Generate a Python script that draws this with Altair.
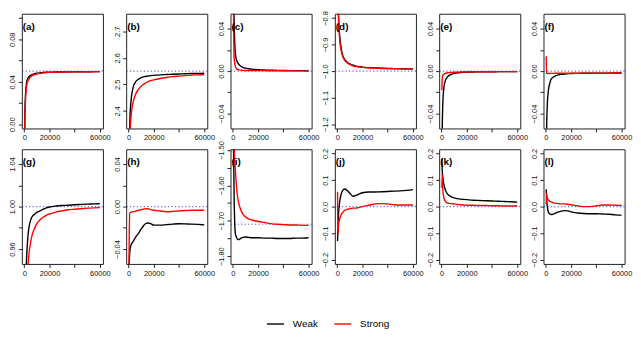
import altair as alt
import pandas as pd

n_vals = [250, 500, 1000, 2000, 3000, 4000, 5000, 6000, 8000, 10000, 12500, 15000,
          17500, 20000, 25000, 30000, 35000, 40000, 45000, 50000, 55000, 60000]

a_weak = [-0.03, 0.01, 0.028, 0.040, 0.0435, 0.045, 0.046, 0.0467, 0.0475, 0.048, 0.0484, 0.0487,
          0.0489, 0.049, 0.0491, 0.0492, 0.0493, 0.0493, 0.0494, 0.0494, 0.0495, 0.0495]
a_strong = [-0.04, 0.0, 0.022, 0.037, 0.041, 0.043, 0.0445, 0.0455, 0.0466, 0.0473, 0.0479, 0.0483,
            0.0486, 0.0488, 0.049, 0.0491, 0.0492, 0.0493, 0.0493, 0.0494, 0.0494, 0.0495]
b_weak = [2.15, 2.25, 2.36, 2.44, 2.475, 2.495, 2.505, 2.512, 2.52, 2.525, 2.529, 2.531,
          2.533, 2.534, 2.536, 2.537, 2.538, 2.539, 2.54, 2.541, 2.541, 2.542]
b_strong = [2.1, 2.2, 2.31, 2.38, 2.42, 2.44, 2.455, 2.467, 2.482, 2.493, 2.502, 2.509,
            2.514, 2.517, 2.522, 2.526, 2.529, 2.531, 2.533, 2.535, 2.536, 2.537]
c_weak = [0.15, 0.09, 0.045, 0.016, 0.01, 0.0075, 0.006, 0.0048, 0.0036, 0.0028, 0.0022, 0.0018,
          0.0015, 0.0013, 0.001, 0.0008, 0.0007, 0.0006, 0.0005, 0.0004, 0.0004, 0.0003]
c_strong = [0.12, 0.06, 0.012, 0.004, 0.002, 0.0014, 0.0011, 0.0009, 0.0007, 0.0006, 0.0005, 0.0005,
            0.0004, 0.0004, 0.0004, 0.0003, 0.0003, 0.0003, 0.0003, 0.0002, 0.0002, 0.0002]
d_weak = [-0.6, -0.7, -0.79, -0.87, -0.91, -0.935, -0.948, -0.957, -0.967, -0.973, -0.978, -0.981,
          -0.983, -0.985, -0.987, -0.988, -0.989, -0.99, -0.9905, -0.991, -0.9915, -0.992]
d_strong = [-0.62, -0.72, -0.80, -0.885, -0.92, -0.94, -0.952, -0.96, -0.969, -0.975, -0.98, -0.983,
            -0.985, -0.986, -0.988, -0.989, -0.99, -0.9905, -0.991, -0.9915, -0.992, -0.992]
e_weak = [-0.1, -0.06, -0.03, -0.014, -0.009, -0.0065, -0.005, -0.004, -0.003, -0.0022, -0.0017, -0.0013,
          -0.0011, -0.001, -0.0008, -0.0007, -0.0006, -0.0006, -0.0005, -0.0005, -0.0005, -0.0005]
e_strong = [-0.018, -0.008, -0.004, -0.0028, -0.0022, -0.0018, -0.0015, -0.0014, -0.0012, -0.0011, -0.001, -0.0009,
            -0.0008, -0.0008, -0.0007, -0.0006, -0.0006, -0.0006, -0.0005, -0.0005, -0.0005, -0.0005]
f_weak = [-0.1, -0.06, -0.035, -0.018, -0.012, -0.008, -0.0065, -0.0055, -0.0042, -0.0035, -0.003, -0.0027,
          -0.0025, -0.0023, -0.0021, -0.002, -0.002, -0.0019, -0.0019, -0.0019, -0.0018, -0.0018]
f_strong = [0.014, -0.002, -0.0022, -0.0022, -0.0022, -0.0021, -0.0021, -0.0021, -0.002, -0.002, -0.002, -0.002,
            -0.002, -0.002, -0.002, -0.0019, -0.0019, -0.0019, -0.0019, -0.0018, -0.0018, -0.0018]
g_weak = [0.8, 0.88, 0.92, 0.955, 0.973, 0.982, 0.987, 0.99, 0.9925, 0.9945, 0.996, 0.9975,
          0.9988, 0.9996, 1.0005, 1.001, 1.0013, 1.0017, 1.002, 1.0023, 1.0025, 1.0028]
g_strong = [0.75, 0.83, 0.88, 0.92, 0.945, 0.958, 0.966, 0.972, 0.979, 0.984, 0.9875, 0.99,
            0.9918, 0.993, 0.9948, 0.996, 0.997, 0.9975, 0.998, 0.9985, 0.9988, 0.999]
h_weak = [-0.08, -0.055, -0.042, -0.036, -0.034, -0.032, -0.030, -0.028, -0.025, -0.021, -0.017, -0.0155,
          -0.016, -0.0175, -0.0175, -0.017, -0.0165, -0.0162, -0.0163, -0.0165, -0.0168, -0.0172]
h_strong = [-0.07, -0.03, -0.006, -0.0052, -0.005, -0.0048, -0.0045, -0.004, -0.0035, -0.003, -0.0022, -0.002,
            -0.0028, -0.0035, -0.0042, -0.0048, -0.0045, -0.004, -0.0037, -0.0035, -0.0034, -0.0035]
i_weak = [-1.35, -1.49, -1.64, -1.738, -1.748, -1.753, -1.753, -1.75, -1.747, -1.746, -1.747, -1.748,
          -1.748, -1.748, -1.749, -1.749, -1.75, -1.75, -1.75, -1.749, -1.749, -1.748]
i_strong = [-1.3, -1.38, -1.49, -1.56, -1.61, -1.64, -1.655, -1.667, -1.682, -1.689, -1.695, -1.698,
            -1.7, -1.702, -1.705, -1.708, -1.71, -1.711, -1.712, -1.712, -1.713, -1.713]
j_weak = [-0.13, -0.09, -0.03, 0.02, 0.045, 0.058, 0.065, 0.066, 0.06, 0.05, 0.039, 0.042,
          0.048, 0.052, 0.055, 0.055, 0.056, 0.057, 0.058, 0.059, 0.061, 0.064]
j_strong = [0.055, -0.107, -0.07, -0.045, -0.032, -0.024, -0.018, -0.014, -0.01, -0.008, -0.006, -0.006,
            -0.003, 0.0, 0.005, 0.01, 0.011, 0.01, 0.007, 0.006, 0.006, 0.006]
k_weak = [0.18, 0.14, 0.11, 0.08, 0.063, 0.052, 0.046, 0.042, 0.036, 0.033, 0.030, 0.028,
          0.027, 0.026, 0.024, 0.023, 0.022, 0.021, 0.02, 0.019, 0.018, 0.017]
k_strong = [0.07, 0.12, 0.06, 0.03, 0.02, 0.015, 0.013, 0.012, 0.011, 0.01, 0.008, 0.007,
            0.006, 0.005, 0.005, 0.004, 0.004, 0.003, 0.003, 0.002, 0.002, 0.002]
l_weak = [0.065, 0.035, 0.005, -0.021, -0.027, -0.03, -0.03, -0.028, -0.024, -0.02, -0.017, -0.015,
          -0.016, -0.02, -0.024, -0.026, -0.027, -0.027, -0.028, -0.029, -0.031, -0.032]
l_strong = [0.01, 0.05, 0.035, 0.025, 0.02, 0.018, 0.016, 0.014, 0.012, 0.011, 0.01, 0.01,
            0.009, 0.007, 0.003, 0.0, 0.0, 0.003, 0.006, 0.006, 0.005, 0.004]

weak_series = [a_weak, b_weak, c_weak, d_weak, e_weak, f_weak, g_weak, h_weak, i_weak, j_weak, k_weak, l_weak]
strong_series = [a_strong, b_strong, c_strong, d_strong, e_strong, f_strong,
                 g_strong, h_strong, i_strong, j_strong, k_strong, l_strong]

panel_labels = ["(a)", "(b)", "(c)", "(d)", "(e)", "(f)", "(g)", "(h)", "(i)", "(j)", "(k)", "(l)"]
true_values = [0.05, 2.55, 0.0, -1.0, 0.0, 0.0, 1.0, 0.0, -1.71, 0.0, 0.0, 0.0]
y_limits = [(0.0, 0.1), (2.35, 2.75), (-0.05, 0.05), (-1.2, -0.8), (-0.05, 0.05), (-0.05, 0.05),
            (0.95, 1.05), (-0.05, 0.05), (-1.81, -1.51), (-0.2, 0.2), (-0.2, 0.2), (-0.2, 0.2)]
y_ticks = [
    [0.0, 0.02, 0.04, 0.06, 0.08, 0.1],
    [2.4, 2.5, 2.6, 2.7],
    [-0.04, -0.02, 0.0, 0.02, 0.04],
    [-1.2, -1.1, -1.0, -0.9, -0.8],
    [-0.04, -0.02, 0.0, 0.02, 0.04],
    [-0.04, -0.02, 0.0, 0.02, 0.04],
    [0.96, 0.98, 1.0, 1.02, 1.04],
    [-0.04, -0.02, 0.0, 0.02, 0.04],
    [-1.8, -1.75, -1.7, -1.65, -1.6, -1.55, -1.5],
    [-0.2, -0.1, 0.0, 0.1, 0.2],
    [-0.2, -0.1, 0.0, 0.1, 0.2],
    [-0.2, -0.1, 0.0, 0.1, 0.2],
]
y_label_step = [2, 1, 2, 1, 2, 2, 2, 2, 2, 1, 1, 1]
y_formats = [".2f", ".1f", ".2f", ".1f", ".2f", ".2f", ".2f", ".2f", ".2f", ".1f", ".1f", ".1f"]
x_ticks = [0, 20000, 40000, 60000]
x_labeled = [0, 20000, 60000]
series_names = ["Weak", "Strong"]
series_colors = ["black", "red"]

FONT = "Liberation Sans"
W, H = 82, 116

color_scale = alt.Scale(domain=series_names, range=series_colors)
legend = alt.Legend(orient="none", legendX=247, legendY=304, direction="horizontal", title=None,
                    symbolType="stroke", symbolSize=289, symbolStrokeWidth=1.4,
                    labelFont=FONT, labelFontSize=10, labelColor="black",
                    labelOffset=8, columnPadding=13, padding=0)

x_expr = " || ".join(f"datum.value == {v}" for v in x_labeled)
x_axis = alt.Axis(values=x_ticks, format="d", title=None, labelExpr=f"({x_expr}) ? datum.label : ''")
x_scale = alt.Scale(domain=[-1900, 62400], nice=False, zero=False)


def panel(i):
    lo, hi = y_limits[i]
    pad = 0.04 * (hi - lo)
    y_scale = alt.Scale(domain=[lo - pad, hi + pad], nice=False, zero=False)
    labeled = y_ticks[i][::y_label_step[i]]
    expr = " || ".join(f"abs(datum.value - ({v})) < 1e-9" for v in labeled)
    y_axis = alt.Axis(values=y_ticks[i], format=y_formats[i], title=None,
                      labelExpr=f"({expr}) ? datum.label : ''")
    df = pd.DataFrame({
        "n": n_vals + n_vals,
        "value": weak_series[i] + strong_series[i],
        "series": ["Weak"] * len(n_vals) + ["Strong"] * len(n_vals),
    })
    base = alt.Chart(df).mark_line(clip=True, strokeWidth=1.4, interpolate="monotone").encode(
        x=alt.X("n:Q", scale=x_scale, axis=x_axis),
        y=alt.Y("value:Q", scale=y_scale, axis=y_axis),
        color=alt.Color("series:N", scale=color_scale, legend=legend),
    )
    weak = base.transform_filter(alt.datum.series == "Weak")
    strong = base.transform_filter(alt.datum.series == "Strong")
    rule = alt.Chart(pd.DataFrame({"value": [true_values[i]]})).mark_rule(
        color="#3b3bff", strokeDash=[1.2, 2.3], strokeWidth=1.1, opacity=0.8
    ).encode(y=alt.Y("value:Q", scale=y_scale, axis=y_axis))
    text = alt.Chart(pd.DataFrame({"lab": [panel_labels[i]]})).mark_text(
        align="left", baseline="middle", font=FONT, fontSize=10, fontWeight="bold", color="black"
    ).encode(x=alt.value(1), y=alt.value(13), text="lab:N")
    return alt.layer(rule, weak, strong, text).properties(width=W, height=H)


chart = alt.concat(
    *[panel(i) for i in range(12)], columns=6,
    spacing=alt.RowColnumber(row=21, column=23.5), bounds="flush"
).properties(padding=0).configure_view(
    stroke="#222", strokeWidth=1
).configure_axis(
    domain=False, grid=False, tickColor="#222", tickSize=3.5,
    labelFont=FONT, labelFontSize=7.5, labelColor="#111"
).configure_axisY(
    labelAngle=270, labelAlign="center", labelBaseline="bottom", labelPadding=1.5
).configure_axisX(
    labelPadding=2
)

chart.save("out.html", embed_options={"renderer": "svg", "actions": False})
